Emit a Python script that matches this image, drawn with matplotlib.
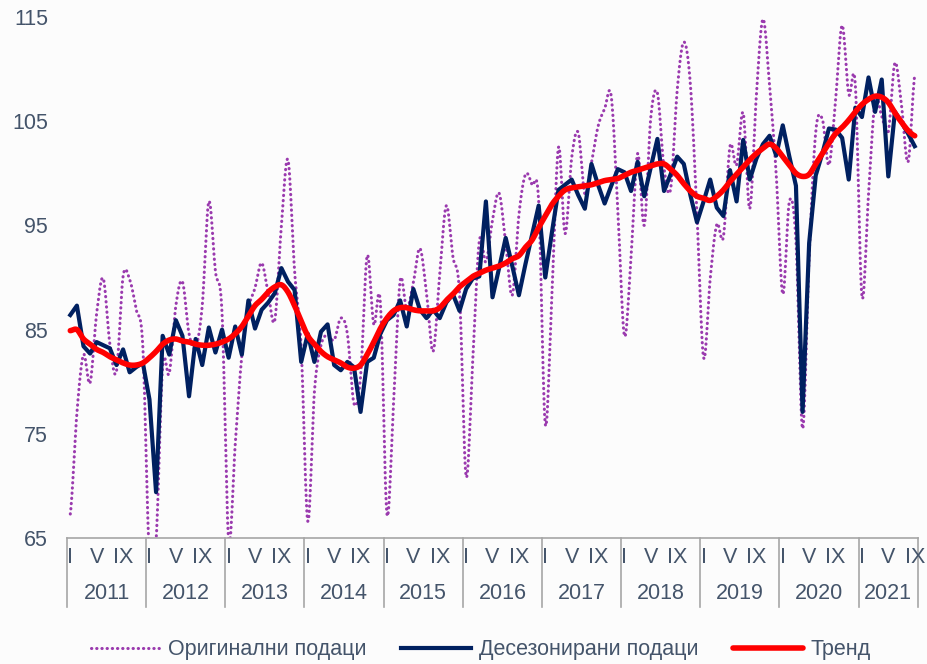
import numpy as np
import matplotlib.pyplot as plt
from matplotlib.lines import Line2D

plt.rcParams['font.family'] = ['Liberation Sans', 'DejaVu Sans']

years = ['2011', '2012', '2013', '2014', '2015', '2016', '2017', '2018', '2019', '2020', '2021']
month_labels = ['I', 'V', 'IX']
month_pos = [0, 4, 8]

original = [
    67.3, 77.0, 82.6, 79.9, 86.6, 89.9, 83.6, 81.0, 90.1, 89.8, 86.9, 83.3,
    63.0, 64.7, 81.5, 80.8, 87.3, 89.6, 84.6, 83.3, 87.3, 97.3, 90.6, 86.6,
    64.8, 74.0, 82.5, 87.0, 89.0, 91.4, 88.5, 85.9, 95.0, 101.3, 90.6, 83.3,
    66.6, 79.0, 83.5, 84.5, 84.0, 86.1, 84.6, 77.9, 80.5, 92.1, 85.5, 87.6,
    67.3, 78.0, 89.7, 87.0, 89.5, 92.8, 88.5, 82.9, 90.3, 96.9, 92.0, 88.5,
    70.9, 82.0, 93.5, 91.5, 95.5, 98.1, 93.3, 88.3, 96.0, 99.9, 98.9, 97.3,
    75.9, 88.3, 102.5, 94.2, 101.5, 103.9, 98.0, 101.0, 104.5, 106.2, 107.4, 96.5,
    84.4, 92.0, 101.9, 95.0, 105.4, 107.7, 100.5, 98.5, 108.0, 112.6, 108.5, 96.0,
    82.3, 89.9, 95.1, 93.9, 102.6, 100.8, 105.8, 96.6, 107.5, 114.8, 108.4, 100.0,
    88.4, 97.3, 93.5, 75.5, 92.0, 104.0, 105.2, 100.8, 107.0, 114.2, 107.6, 108.5,
    88.2, 98.0, 107.0, 105.5, 104.0, 110.6, 106.5, 101.1, 109.4,
]

seasonal_adj = [
    86.4, 87.3, 83.4, 82.7, 83.8, 83.5, 83.2, 81.6, 83.1, 80.9, 81.4, 81.8,
    78.3, 69.4, 84.4, 82.6, 85.9, 84.4, 78.6, 84.1, 81.6, 85.2, 82.8, 85.0,
    82.3, 85.3, 82.6, 87.8, 85.1, 86.9, 87.6, 88.5, 90.9, 89.6, 88.8, 81.9,
    84.6, 81.9, 84.8, 85.5, 81.6, 81.1, 81.9, 81.4, 77.1, 81.9, 82.3, 84.6,
    85.9, 86.4, 87.8, 85.3, 88.9, 86.9, 86.1, 86.9, 86.1, 87.6, 88.4, 86.8,
    88.9, 89.9, 90.1, 97.3, 88.1, 90.9, 93.8, 91.1, 88.3, 91.3, 94.1, 96.9,
    90.0, 94.3, 98.4, 98.9, 99.4, 97.9, 96.6, 100.9, 98.9, 97.1, 98.8, 100.4,
    100.1, 98.3, 101.1, 97.8, 100.6, 103.3, 98.3, 99.9, 101.6, 100.9, 97.9, 95.3,
    97.3, 99.4, 96.7, 95.9, 100.3, 97.3, 103.2, 99.4, 101.4, 102.8, 103.6, 101.7,
    104.6, 101.6, 98.8, 77.1, 93.3, 99.8, 101.9, 104.3, 104.2, 103.4, 99.4, 106.3,
    105.4, 109.2, 105.9, 109.0, 99.7, 105.9, 104.9, 103.8, 102.6,
]

trend = [
    84.9, 85.0, 84.1, 83.6, 83.1, 82.8, 82.4, 82.1, 81.8, 81.6, 81.6, 81.8,
    82.3, 82.9, 83.6, 84.0, 84.1, 83.9, 83.8, 83.6, 83.5, 83.5, 83.6, 83.8,
    84.1, 84.6, 85.3, 86.3, 87.3, 87.9, 88.6, 89.1, 89.3, 88.6, 87.3, 85.8,
    84.4, 83.6, 82.9, 82.4, 82.1, 81.8, 81.4, 81.3, 81.6, 82.6, 83.8, 85.1,
    86.1, 86.8, 87.1, 87.1, 86.9, 86.8, 86.8, 86.8, 87.1, 87.8, 88.4, 89.1,
    89.6, 90.1, 90.4, 90.7, 90.9, 91.1, 91.4, 91.8, 92.1, 92.9, 93.6, 94.8,
    95.9, 97.0, 97.8, 98.4, 98.6, 98.7, 98.8, 98.9, 99.1, 99.3, 99.4, 99.5,
    99.8, 100.1, 100.3, 100.5, 100.7, 100.9, 100.9, 100.4, 99.8, 99.0, 98.3, 97.8,
    97.6, 97.4, 97.8, 98.4, 99.2, 99.9, 100.6, 101.3, 101.9, 102.4, 102.8, 102.4,
    101.6, 100.8, 100.0, 99.7, 99.9, 100.9, 101.9, 102.9, 103.8, 104.4, 105.1, 105.9,
    106.6, 107.1, 107.4, 107.3, 106.8, 105.8, 104.9, 104.1, 103.6,
]


def smooth(y, steps=12):
    # catmull-rom, close to Excel's smoothed line
    y = np.asarray(y, dtype=float)
    p = np.concatenate([[y[0]], y, [y[-1]]])
    xs, ys = [], []
    t = np.linspace(0, 1, steps, endpoint=False)
    for i in range(len(y) - 1):
        p0, p1, p2, p3 = p[i], p[i + 1], p[i + 2], p[i + 3]
        yy = 0.5 * ((2 * p1) + (-p0 + p2) * t + (2 * p0 - 5 * p1 + 4 * p2 - p3) * t ** 2
                    + (-p0 + 3 * p1 - 3 * p2 + p3) * t ** 3)
        xs.append(i + t)
        ys.append(yy)
    xs.append([len(y) - 1])
    ys.append([y[-1]])
    return np.concatenate(xs), np.concatenate(ys)


text_col = '#44546A'
grid_col = '#A6A6A6'
purple = '#9A3AAE'
navy = '#002060'
red = '#FF0000'
fs = 15.5
dots = (0, (0.1, 1.6))

fig = plt.figure(figsize=(9.28, 6.64), dpi=100, facecolor='#FCFCFC')
ax = fig.add_axes([67 / 928, 1 - 538 / 664, 851 / 928, 521 / 664])
ax.set_facecolor('#FCFCFC')

n = len(seasonal_adj)
x = np.arange(n)

xs, ys = smooth(original)
ax.plot(xs, ys, color=purple, lw=2.2, linestyle=dots, dash_capstyle='round', zorder=2)
ax.plot(x, seasonal_adj, color=navy, lw=3.0, zorder=3)
xs, ys = smooth(trend)
ax.plot(xs, ys, color=red, lw=4.0, solid_capstyle='round', zorder=4)

ax.set_xlim(-0.5, n - 0.5)
ax.set_ylim(65, 115)
ax.set_yticks([65, 75, 85, 95, 105, 115])
ax.tick_params(axis='y', length=0, pad=13.5, labelsize=fs, labelcolor=text_col)
ax.set_xticks([])
for s in ['top', 'right', 'left']:
    ax.spines[s].set_visible(False)
ax.spines['bottom'].set_color(grid_col)
ax.spines['bottom'].set_linewidth(1.2)

tr = ax.get_xaxis_transform()
bounds = [12 * k - 0.5 for k in range(len(years))] + [n - 0.5]
for b in bounds:
    ax.plot([b, b], [0, -0.132], color=grid_col, lw=1.2, transform=tr, clip_on=False)
for k, yr in enumerate(years):
    start = 12 * k
    end = min(start + 12, n)
    for lab, m in zip(month_labels, month_pos):
        if start + m < n:
            ax.text(start + m, -0.038, lab, transform=tr, ha='center', va='center',
                    fontsize=fs, color=text_col)
    ax.text((start + end - 1) / 2, -0.106, yr, transform=tr, ha='center', va='center',
            fontsize=fs, color=text_col)

handles = [
    Line2D([], [], color=purple, lw=2.2, linestyle=dots, dash_capstyle='round'),
    Line2D([], [], color=navy, lw=3.0),
    Line2D([], [], color=red, lw=4.0, solid_capstyle='round'),
]
labels = ['Оригинални подаци', 'Десезонирани подаци', 'Тренд']
leg = fig.legend(handles, labels, loc='center', bbox_to_anchor=(0.518, 1 - 650 / 664), ncol=3,
                 frameon=False, fontsize=fs, handlelength=3.25, columnspacing=1.6,
                 handletextpad=0.35, labelcolor=text_col)

fig.savefig('out.png', dpi=100, facecolor=fig.get_facecolor())
